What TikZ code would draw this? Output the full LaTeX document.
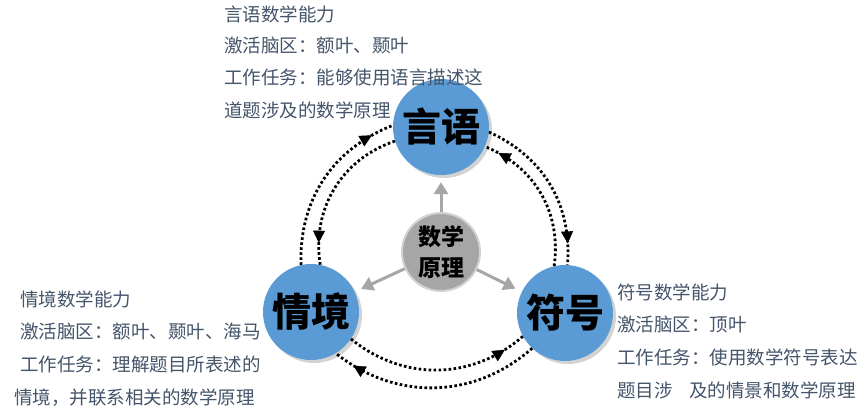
\documentclass[tikz,border=0pt]{standalone}
\usepackage{fontspec}
\newfontfamily\cjk{Noto Sans CJK SC}
\usetikzlibrary{arrows.meta,shadows,decorations.markings}

\definecolor{ballblue}{RGB}{91,155,213}
\definecolor{ballgray}{RGB}{166,166,166}
\definecolor{notecolor}{RGB}{68,84,106}

\tikzset{
	ball/.style={circle,fill=ballblue,minimum size=96pt,inner sep=0pt,
		drop shadow={opacity=0.35,shadow xshift=3pt,shadow yshift=-3pt},
		font=\cjk\bfseries\fontsize{39}{39}\selectfont},
	core/.style={circle,fill=ballgray,draw=gray!35,line width=2pt,minimum size=78pt,
		inner sep=0pt,align=center,font=\cjk\bfseries\fontsize{23}{31}\selectfont},
	feed/.style={draw=ballgray,line width=3pt,-{Triangle[length=12pt,width=14pt]},shorten >=7pt},
	loopline/.style={dash pattern=on 2.6pt off 2.4pt,line width=2.8pt},
	tip/.style={postaction={decorate,decoration={markings,
		mark=at position #1 with {\arrow[solid]{Triangle[length=12pt,width=12pt,line width=0.4pt]}}}}},
	note/.style={anchor=west,inner sep=0pt,text=notecolor,font=\cjk\fontsize{18.5}{18.5}\selectfont}
}

\begin{document}
\begin{tikzpicture}[x=1pt,y=1pt]
	\useasboundingbox (0,0) rectangle (862,-418);

	% Circles
	\node[ball] (yanyu) at (441,-127) {言语};
	\node[ball] (qingjing) at (311,-312) {情境};
	\node[ball] (fuhao) at (565,-313) {符号};
	\node[core] (yuanli) at (441,-252) {数学\\原理};

	% Gray arrows
	\draw[feed] (yuanli) -- (yanyu);
	\draw[feed] (yuanli) -- (qingjing);
	\draw[feed] (yuanli) -- (fuhao);

	% Dotted loops
	\draw[loopline,tip=0.87] (qingjing.102) to[bend left=35] (yanyu.178);
	\draw[loopline,tip=0.86] (yanyu.197) to[bend right=40] (qingjing.79);
	\draw[loopline,tip=0.87] (yanyu.354) to[bend left=35] (fuhao.87);
	\draw[loopline,tip=0.9] (fuhao.103) to[bend right=38] (yanyu.336);
	\draw[loopline,tip=0.88] (qingjing.326) to[bend right=40] (fuhao.209);
	\draw[loopline,tip=0.9] (fuhao.227) to[bend left=40] (qingjing.301);

	% Notes
	\node[note] (yanyuA) at (224,-14) {言语数学能力};
	\node[note] (yanyuB) at (224,-45) {激活脑区：额叶、颞叶};
	\node[note] (yanyuC) at (224,-77) {工作任务：能够使用语言描述这};
	\node[note] (yanyuD) at (224,-110) {道题涉及的数学原理};

	\node[note] (qingjingA) at (20,-299) {情境数学能力};
	\node[note] (qingjingB) at (20,-331) {激活脑区：额叶、颞叶、海马};
	\node[note] (qingjingC) at (20,-364) {工作任务：理解题目所表述的};
	\node[note] (qingjingD) at (14,-398) {情境，并联系相关的数学原理};

	\node[note] (fuhaoA) at (617,-292) {符号数学能力};
	\node[note] (fuhaoB) at (617,-324) {激活脑区：顶叶};
	\node[note] (fuhaoC) at (617,-357) {工作任务：使用数学符号表达};
	\node[note] (fuhaoD) at (617,-390) {题目涉\hspace{0.9em}及的情景和数学原理};
\end{tikzpicture}
\end{document}
